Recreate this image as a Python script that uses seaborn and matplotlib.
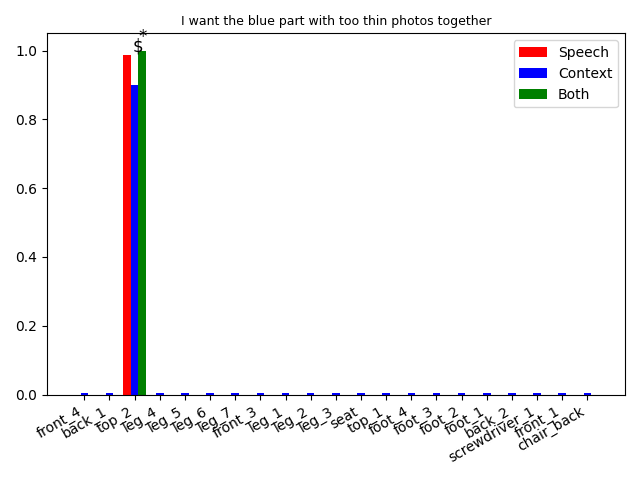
import pandas as pd
import matplotlib.pyplot as plt
import seaborn as sns

# Datos
parts = ["front_4", "back_1", "top_2", "leg_4", "leg_5", "leg_6", "leg_7",
         "front_3", "leg_1", "leg_2", "leg_3", "seat", "top_1", "foot_4",
         "foot_3", "foot_2", "foot_1", "back_2", "screwdriver_1", "front_1",
         "chair_back"]
speech = [0, 0, 0.987, 0, 0, 0, 0, 0, 0, 0, 0, 0, 0, 0, 0, 0, 0, 0, 0, 0, 0]
context = [0.005, 0.005, 0.9, 0.005, 0.005, 0.005, 0.005, 0.005, 0.005, 0.005,
           0.005, 0.005, 0.005, 0.005, 0.005, 0.005, 0.005, 0.005, 0.005,
           0.005, 0.005]
both = [0, 0, 1.0, 0, 0, 0, 0, 0, 0, 0, 0, 0, 0, 0, 0, 0, 0, 0, 0, 0, 0]
series = ["Speech", "Context", "Both"]
colors = ["red", "blue", "green"]

df = pd.concat([
    pd.DataFrame({"part": parts, "value": speech, "type": "Speech"}),
    pd.DataFrame({"part": parts, "value": context, "type": "Context"}),
    pd.DataFrame({"part": parts, "value": both, "type": "Both"}),
])

fig, ax = plt.subplots(figsize=(6.4, 4.8), dpi=100)
sns.barplot(data=df, x="part", y="value", hue="type", hue_order=series,
            palette=colors, width=0.9, saturation=1, errorbar=None,
            linewidth=0, legend=False, ax=ax)
ax.autoscale(axis="x")
ax.set_xlabel("")
ax.set_ylabel("")

# marcas de significancia sobre top_2
i = parts.index("top_2")
ax.text(i + 0.15, both[i] - 0.015, "$", ha="center", va="bottom", fontsize=12)
ax.text(i + 0.3, both[i] + 0.012, "*", ha="center", va="bottom", fontsize=12)

ax.legend(ax.containers, series, loc="upper right")
ax.set_title("I want the blue part with too thin photos together", fontsize=9)
fig.autofmt_xdate()
fig.tight_layout()
fig.savefig("out.png")
